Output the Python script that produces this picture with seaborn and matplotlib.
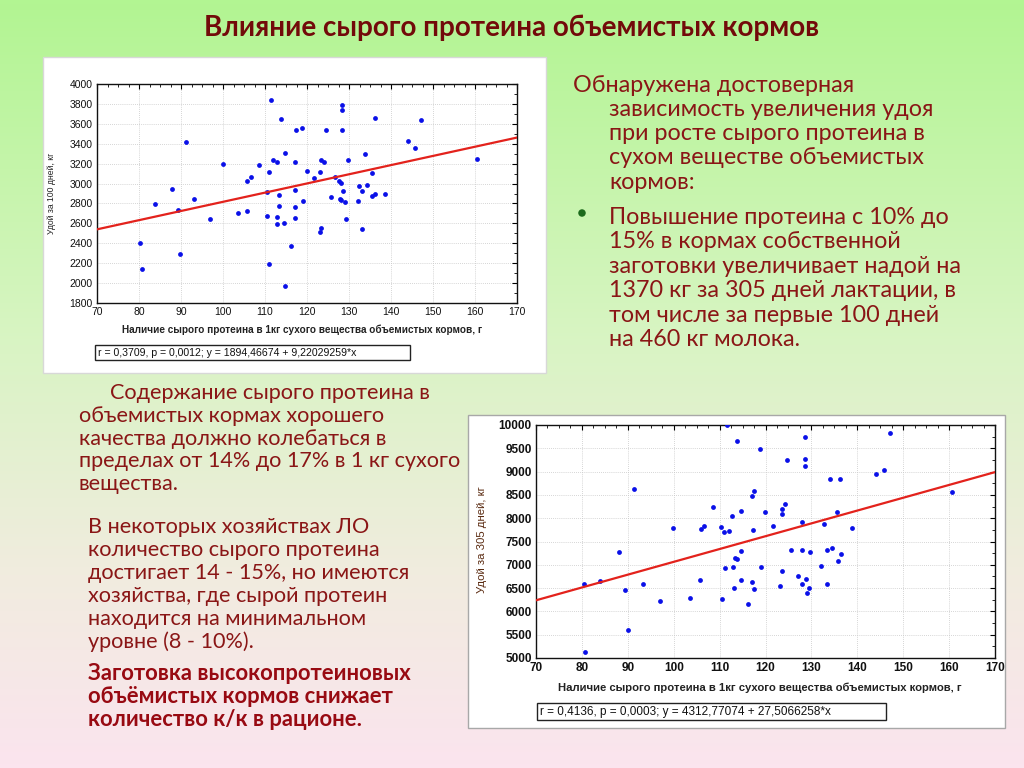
import numpy as np
import pandas as pd
import matplotlib
matplotlib.use("Agg")
import matplotlib.pyplot as plt
import seaborn as sns
from matplotlib.patches import Rectangle, Ellipse
from matplotlib.colors import LinearSegmentedColormap
from matplotlib.ticker import MultipleLocator

# ---------------- data ----------------
protein_100 = [80.3, 80.6, 83.8, 87.9, 89.2, 89.8, 91.2, 93.1, 96.9, 99.9,
               103.6, 105.7, 105.8, 106.6, 108.5, 110.4, 110.4, 110.9, 110.9, 111.4,
               111.8, 112.8, 112.9, 112.9, 113.3, 113.4, 113.9, 114.5, 114.7, 114.7,
               116.3, 117.1, 117.1, 117.1, 117.2, 117.4, 118.7, 119.0, 119.9, 121.7,
               123.1, 123.4, 123.2, 123.4, 124.0, 124.5, 125.6, 126.7, 127.7, 128.0,
               127.8, 128.1, 128.3, 128.4, 128.4, 128.6, 129.1, 129.4, 129.7, 132.1,
               132.4, 133.1, 133.2, 133.9, 134.3, 135.4, 135.4, 136.1, 136.2, 138.6,
               144.0, 145.8, 147.2, 160.5]
yield_100 = [2399, 2145, 2793, 2947, 2730, 2295, 3422, 2847, 2643, 3198,
             2700, 2720, 3024, 3067, 3188, 2920, 2669, 3111, 2195, 3843,
             3238, 3221, 2659, 2593, 2880, 2770, 3649, 2603, 3305, 1967,
             2372, 3218, 2934, 2766, 2653, 3535, 3559, 2820, 3127, 3054,
             2512, 2549, 3114, 3238, 3221, 3542, 2863, 3067, 3021, 3010,
             2840, 2833, 3535, 3789, 3736, 2930, 2813, 2646, 3241, 2820,
             2977, 2542, 2930, 3295, 2990, 3101, 2873, 3659, 2890, 2893,
             3432, 3361, 3639, 3251]

protein_305 = [80.4, 80.6, 83.9, 88.1, 89.4, 90.1, 91.4, 93.4,
               111.7, 113.8, 118.8, 117.5, 117.1, 108.5, 114.6, 112.8, 119.8, 99.8,
               105.9, 106.6, 110.4, 110.9, 112.0, 117.2, 114.6, 113.4, 113.8, 111.1,
               112.9, 119.0, 105.8, 114.6, 117.1, 113.1, 117.5, 97.0, 103.6, 110.5,
               116.2, 128.7, 124.7, 128.5, 128.5, 134.1, 136.3, 144.1, 124.3, 123.6,
               123.6, 135.5, 121.7, 128.0, 132.7, 138.8, 125.6, 127.9, 129.8, 133.4,
               134.4, 136.4, 135.7, 132.0, 123.6, 127.0, 128.8, 127.9, 123.2, 133.4,
               129.4, 129.1, 147.2, 145.9, 160.6]
yield_305 = [6585, 5136, 6657, 7274, 6449, 5610, 8630, 6592,
             10000, 9664, 9478, 8584, 8476, 8234, 8161, 8047, 8133, 7796,
             7775, 7832, 7811, 7697, 7732, 7740, 7296, 7153, 7130, 6938,
             6960, 6953, 6680, 6674, 6631, 6502, 6474, 6230, 6281, 6259,
             6152, 9735, 9256, 9278, 9120, 8835, 8848, 8942, 8298, 8204,
             8083, 8133, 7840, 7912, 7875, 7783, 7311, 7325, 7282, 7325,
             7368, 7240, 7082, 6968, 6861, 6760, 6689, 6595, 6539, 6582,
             6502, 6401, 9835, 9027, 8569]

fit_100 = (1894.46674, 9.22029259)
fit_305 = (4312.77074, 27.5066258)

x_ticks = [70, 80, 90, 100, 110, 120, 130, 140, 150, 160, 170]
y_ticks_100 = [1800, 2000, 2200, 2400, 2600, 2800, 3000, 3200, 3400, 3600, 3800, 4000]
y_ticks_305 = [5000, 5500, 6000, 6500, 7000, 7500, 8000, 8500, 9000, 9500, 10000]

title = "Влияние сырого протеина объемистых кормов"
xlabel = "Наличие сырого протеина в 1кг сухого вещества объемистых кормов, г"
ylabel_100 = "Удой за 100 дней, кг"
ylabel_305 = "Удой за 305 дней, кг"
stats_100 = "r = 0,3709, p = 0,0012; y = 1894,46674 + 9,22029259*x"
stats_305 = "r = 0,4136, p = 0,0003; y = 4312,77074 + 27,5066258*x"

right_intro = ["Обнаружена достоверная",
               "зависимость увеличения удоя",
               "при росте сырого протеина в",
               "сухом веществе объемистых",
               "кормов:"]
right_bullet = ["Повышение протеина с 10% до",
                "15% в кормах собственной",
                "заготовки увеличивает надой на",
                "1370 кг за 305 дней лактации, в",
                "том числе за первые 100 дней",
                "на 460 кг молока."]
left_para1 = ["Содержание сырого протеина в",
              "объемистых кормах хорошего",
              "качества должно колебаться в",
              "пределах от 14% до 17% в 1 кг сухого",
              "вещества."]
left_para2 = ["В некоторых хозяйствах ЛО",
              "количество сырого протеина",
              "достигает 14 - 15%, но имеются",
              "хозяйства, где сырой протеин",
              "находится на минимальном",
              "уровне (8 - 10%)."]
left_para3 = ["Заготовка высокопротеиновых",
              "объёмистых кормов снижает",
              "количество к/к в рационе."]

# ---------------- figure ----------------
sns.set_theme(style="white")
plt.rcParams["font.family"] = ["Lato", "DejaVu Sans"]

W, H = 1024, 768
fig = plt.figure(figsize=(10.24, 7.68), dpi=100)


def fx(px):
    return px / W


def fy(py):
    return 1 - py / H


# background gradient
bg = fig.add_axes([0, 0, 1, 1], zorder=-10)
cmap = LinearSegmentedColormap.from_list(
    "bg", [(0.0, "#b2f592"), (0.45, "#d9f4c4"), (0.75, "#f1ecdf"), (1.0, "#fbe4ee")])
bg.imshow(np.linspace(0, 1, 256).reshape(-1, 1), aspect="auto", cmap=cmap,
          extent=[0, 1, 0, 1])
bg.set_xlim(0, 1)
bg.set_ylim(0, 1)
bg.axis("off")

# white panels
for (x0, y0, x1, y1, ec) in [(43, 57, 546, 373, "#d8d8d8"), (468, 415, 1005, 728, "#a8a8a8")]:
    fig.patches.append(Rectangle((fx(x0), fy(y1)), (x1 - x0) / W, (y1 - y0) / H,
                                 transform=fig.transFigure, facecolor="white",
                                 edgecolor=ec, lw=1.0, zorder=-5))

CHART_FONT = ["Liberation Sans", "DejaVu Sans"]


def draw_chart(rect, xs, ys, fit, yticks, ymin_step, tick_size, tick_weight):
    left, top, right, bottom = rect
    ax = fig.add_axes([fx(left), fy(bottom), (right - left) / W, (bottom - top) / H])
    df = pd.DataFrame({"x": xs, "y": ys})
    ax.set_xlim(x_ticks[0], x_ticks[-1])
    ax.set_ylim(yticks[0], yticks[-1])
    ax.grid(True, which="major", color="#c8c8c8", lw=0.6, ls=(0, (1, 1.5)))
    sns.scatterplot(data=df, x="x", y="y", ax=ax, color="#0a10e8", s=12,
                    marker="o", linewidth=0, zorder=3)
    lx = np.array(ax.get_xlim())
    sns.lineplot(x=lx, y=fit[0] + fit[1] * lx, ax=ax, color="#e3221c", lw=1.6, zorder=4)
    ax.set_xlim(x_ticks[0], x_ticks[-1])
    ax.set_ylim(yticks[0], yticks[-1])
    ax.set_xticks(x_ticks)
    ax.set_yticks(yticks)
    ax.xaxis.set_minor_locator(MultipleLocator(2.5))
    ax.yaxis.set_minor_locator(MultipleLocator(ymin_step))
    ax.tick_params(which="both", direction="in", top=True, right=True, color="black")
    ax.tick_params(which="major", length=3.5, width=0.8, labelsize=tick_size, pad=3)
    ax.tick_params(which="minor", length=2, width=0.6)
    for lab in ax.get_xticklabels() + ax.get_yticklabels():
        lab.set_fontfamily(CHART_FONT)
        lab.set_fontweight(tick_weight)
        lab.set_color("#111111")
    ax.set_xlabel("")
    ax.set_ylabel("")
    for sp in ax.spines.values():
        sp.set_color("#111111")
        sp.set_linewidth(1.0)
    ax.set_facecolor("white")
    return ax


ax1 = draw_chart((97, 84, 517, 303), protein_100, yield_100, fit_100, y_ticks_100,
                 100, 7.5, "normal")
ax2 = draw_chart((536, 425, 995, 658), protein_305, yield_305, fit_305, y_ticks_305,
                 250, 8.5, "bold")

# axis labels
fig.text(fx(302), fy(330), xlabel, ha="center", va="center", fontsize=7.2,
         fontweight="bold", family=CHART_FONT, color="#222222")
fig.text(fx(760), fy(688), xlabel, ha="center", va="center", fontsize=8.1,
         fontweight="bold", family=CHART_FONT, color="#222222")
fig.text(fx(52), fy(193), ylabel_100, ha="center", va="center", rotation=90,
         fontsize=6.2, family=CHART_FONT, color="#222222")
fig.text(fx(482), fy(540), ylabel_305, ha="center", va="center", rotation=90,
         fontsize=8.2, family=CHART_FONT, color="#5a2a10")

# stats boxes
for (x0, y0, x1, y1, txt, fs) in [(95, 345, 410, 360, stats_100, 7.6),
                                  (537, 703, 886, 720, stats_305, 8.5)]:
    fig.patches.append(Rectangle((fx(x0), fy(y1)), (x1 - x0) / W, (y1 - y0) / H,
                                 transform=fig.transFigure, facecolor="white",
                                 edgecolor="#222222", lw=1.0, zorder=5))
    fig.text(fx(x0 + 3), fy((y0 + y1) / 2), txt, ha="left", va="center",
             fontsize=fs, family=CHART_FONT, color="#111111", zorder=6)

# title
fig.text(fx(512), fy(28), title, ha="center", va="center", fontsize=20,
         fontweight="bold", color="#720a0a")

BODY = "#8a1616"


def put_lines(lines, x_first, x_rest, y0, dy, **kw):
    for i, line in enumerate(lines):
        x = x_first if i == 0 else x_rest
        fig.text(fx(x), fy(y0 + i * dy), line, ha="left", va="center", **kw)


put_lines(right_intro, 573, 609, 85, 24.3, fontsize=16.8, color=BODY)
put_lines(right_bullet, 609, 609, 217, 24.6, fontsize=16.8, color=BODY)
fig.patches.append(Ellipse((fx(582), fy(213)), 7.5 / W, 7.5 / H, transform=fig.transFigure,
                           facecolor="#1c6a1c", edgecolor="none", zorder=5))

put_lines(left_para1, 110, 79, 393, 22.8, fontsize=15.6, color=BODY)
put_lines(left_para2, 88, 88, 527, 23.0, fontsize=15.6, color=BODY)
put_lines(left_para3, 88, 88, 673, 23.5, fontsize=15.8, color="#980a12",
          fontweight="bold")

fig.savefig("out.png", dpi=100)
